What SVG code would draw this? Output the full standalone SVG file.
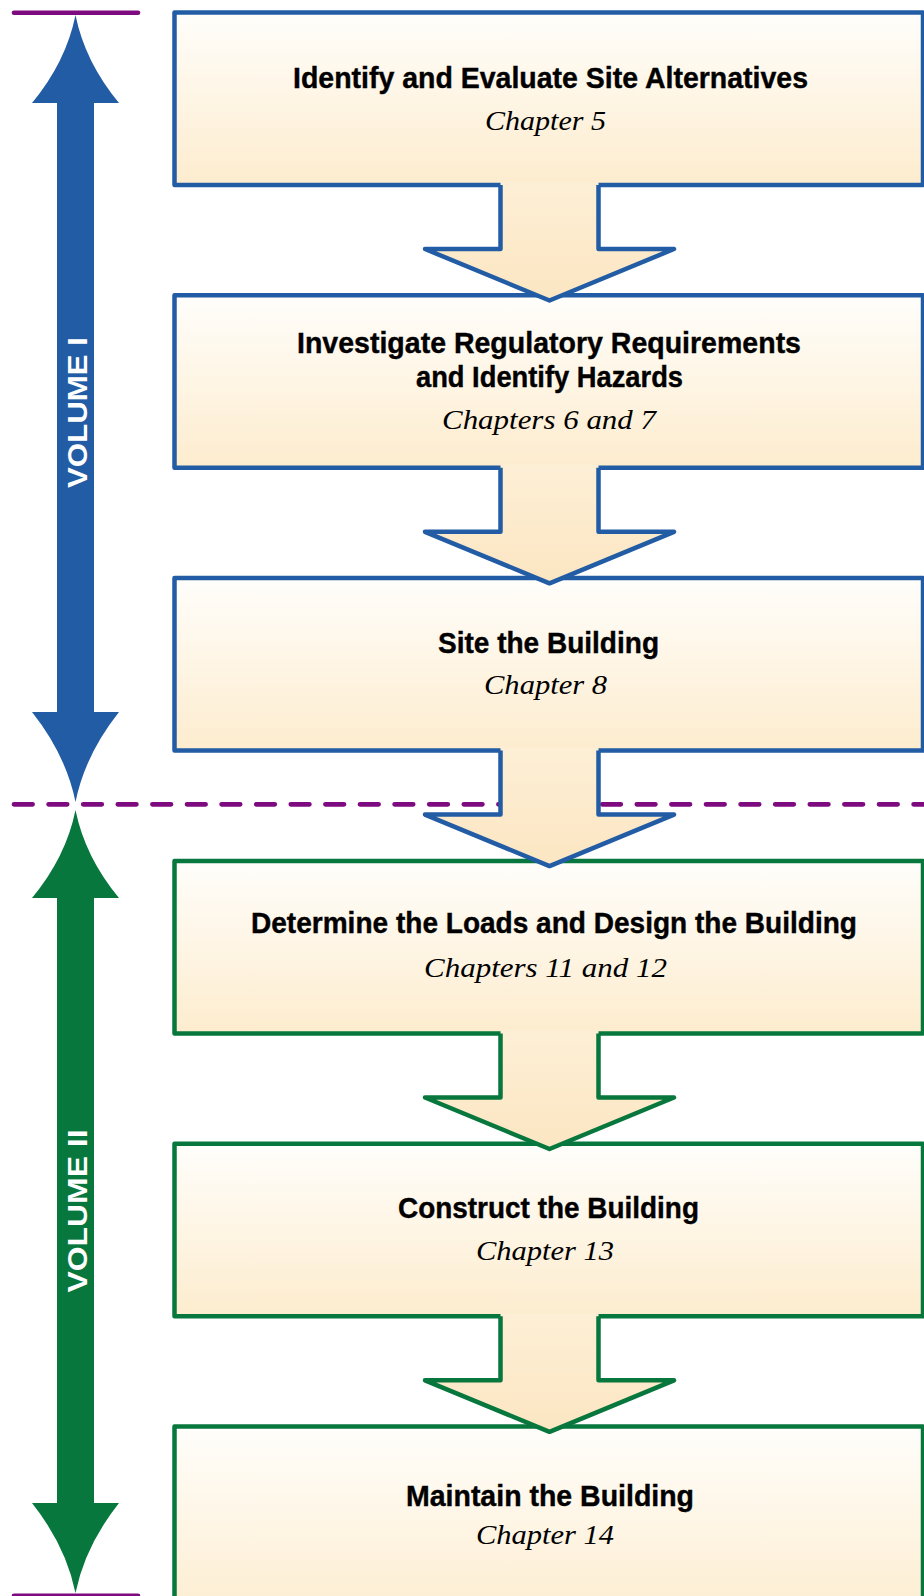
<svg xmlns="http://www.w3.org/2000/svg" width="924" height="1596" viewBox="0 0 924 1596">
<defs>
<linearGradient id="boxg" x1="0" y1="0" x2="0" y2="1"><stop offset="0" stop-color="#fffefb"/><stop offset="1" stop-color="#fdecce"/></linearGradient>
<linearGradient id="cong" x1="0" y1="0" x2="0" y2="1"><stop offset="0" stop-color="#fdefd6"/><stop offset="1" stop-color="#fce6c2"/></linearGradient>
<style>
.box{fill:url(#boxg);stroke-width:4.5;stroke-linejoin:round}
.blue{stroke:#225ca4}
.green{stroke:#07773d}
.cfill{fill:url(#cong);stroke:none}
.cline{fill:none;stroke-width:4.5;stroke-linejoin:round}
.title{font-family:"Liberation Sans",Arial,sans-serif;font-weight:bold;font-size:30px;fill:#000;stroke:#000;stroke-width:0.4;text-anchor:middle}
.chap{font-family:"Liberation Serif","Times New Roman",serif;font-style:italic;font-size:28px;fill:#000;text-anchor:middle}
.vol{font-family:"Liberation Sans",Arial,sans-serif;font-weight:bold;font-size:28px;fill:#fff;text-anchor:middle}
.purple{stroke:#7d0b7f;stroke-width:4.6;stroke-linecap:round;fill:none}
</style>
</defs>
<rect width="924" height="1596" fill="#fff"/>

<g id="volume1">
<line class="purple" x1="14" y1="12.8" x2="138" y2="12.8"/>
<path fill="#225ca4" d="M75.5,15 Q66,62 32,103 H57 V712 H32 Q66,755 75.5,802 Q85,755 119,712 H94 V103 H119 Q85,62 75.5,15 Z"/>
<text class="vol" transform="translate(87,412.5) rotate(-90)" textLength="151" lengthAdjust="spacingAndGlyphs">VOLUME I</text>
</g>
<g id="volume2">
<path fill="#07773d" d="M75.5,810 Q66,857 32,898 H57 V1503 H32 Q66,1546 75.5,1593 Q85,1546 119,1503 H94 V898 H119 Q85,857 75.5,810 Z"/>
<line class="purple" x1="14" y1="1595.8" x2="138" y2="1595.8"/>
<text class="vol" transform="translate(87,1211) rotate(-90)" textLength="163" lengthAdjust="spacingAndGlyphs">VOLUME II</text>
</g>

<g id="box1">
<rect class="box blue" x="174.5" y="12.5" width="748.5" height="172.5"/>
<text class="title" x="550.5" y="88" textLength="515" lengthAdjust="spacingAndGlyphs">Identify and Evaluate Site Alternatives</text>
<text class="chap" x="545.5" y="130" textLength="121" lengthAdjust="spacingAndGlyphs">Chapter 5</text>
</g>
<g id="box2">
<rect class="box blue" x="174.5" y="295.3" width="748.5" height="172.5"/>
<text class="title" x="549" y="352.5" textLength="504" lengthAdjust="spacingAndGlyphs">Investigate Regulatory Requirements</text>
<text class="title" x="549.5" y="386.5" textLength="267" lengthAdjust="spacingAndGlyphs">and Identify Hazards</text>
<text class="chap" x="549" y="428.5" textLength="214" lengthAdjust="spacingAndGlyphs">Chapters 6 and 7</text>
</g>
<g id="box3">
<rect class="box blue" x="174.5" y="578.1" width="748.5" height="172.5"/>
<text class="title" x="548.5" y="652.5" textLength="221" lengthAdjust="spacingAndGlyphs">Site the Building</text>
<text class="chap" x="545.5" y="693.5" textLength="123" lengthAdjust="spacingAndGlyphs">Chapter 8</text>
</g>
<g id="box4">
<rect class="box green" x="174.5" y="861" width="748.5" height="172.5"/>
<text class="title" x="554" y="932.5" textLength="606" lengthAdjust="spacingAndGlyphs">Determine the Loads and Design the Building</text>
<text class="chap" x="545.5" y="977" textLength="243" lengthAdjust="spacingAndGlyphs">Chapters 11 and 12</text>
</g>
<g id="box5">
<rect class="box green" x="174.5" y="1143.8" width="748.5" height="172.5"/>
<text class="title" x="548.5" y="1218" textLength="301" lengthAdjust="spacingAndGlyphs">Construct the Building</text>
<text class="chap" x="545" y="1260" textLength="138" lengthAdjust="spacingAndGlyphs">Chapter 13</text>
</g>
<g id="box6">
<rect class="box green" x="174.5" y="1426.6" width="748.5" height="200"/>
<text class="title" x="550" y="1505.5" textLength="288" lengthAdjust="spacingAndGlyphs">Maintain the Building</text>
<text class="chap" x="545" y="1544" textLength="138" lengthAdjust="spacingAndGlyphs">Chapter 14</text>
</g>

<g id="divider">
<line x1="14" y1="804.3" x2="924" y2="804.3" stroke="#7d0b7f" stroke-width="4.7" stroke-linecap="round" stroke-dasharray="18.6 16"/>
</g>

<g id="connectors">
<g>
<path class="cfill" d="M500.5,182 V249 H425 L549.5,300.5 L674,249 H598.5 V182 Z"/>
<path class="cline blue" d="M500.5,185 V249 H425 L549.5,300.5 L674,249 H598.5 V185"/>
</g>
<g>
<path class="cfill" d="M500.5,464.8 V531.8 H425 L549.5,583.3 L674,531.8 H598.5 V464.8 Z"/>
<path class="cline blue" d="M500.5,467.8 V531.8 H425 L549.5,583.3 L674,531.8 H598.5 V467.8"/>
</g>
<g>
<path class="cfill" d="M500.5,747.6 V814.6 H425 L549.5,866.1 L674,814.6 H598.5 V747.6 Z"/>
<path class="cline blue" d="M500.5,750.6 V814.6 H425 L549.5,866.1 L674,814.6 H598.5 V750.6"/>
</g>
<g>
<path class="cfill" d="M500.5,1030.5 V1097.5 H425 L549.5,1149 L674,1097.5 H598.5 V1030.5 Z"/>
<path class="cline green" d="M500.5,1033.5 V1097.5 H425 L549.5,1149 L674,1097.5 H598.5 V1033.5"/>
</g>
<g>
<path class="cfill" d="M500.5,1313.3 V1380.3 H425 L549.5,1431.8 L674,1380.3 H598.5 V1313.3 Z"/>
<path class="cline green" d="M500.5,1316.3 V1380.3 H425 L549.5,1431.8 L674,1380.3 H598.5 V1316.3"/>
</g>
</g>
</svg>
